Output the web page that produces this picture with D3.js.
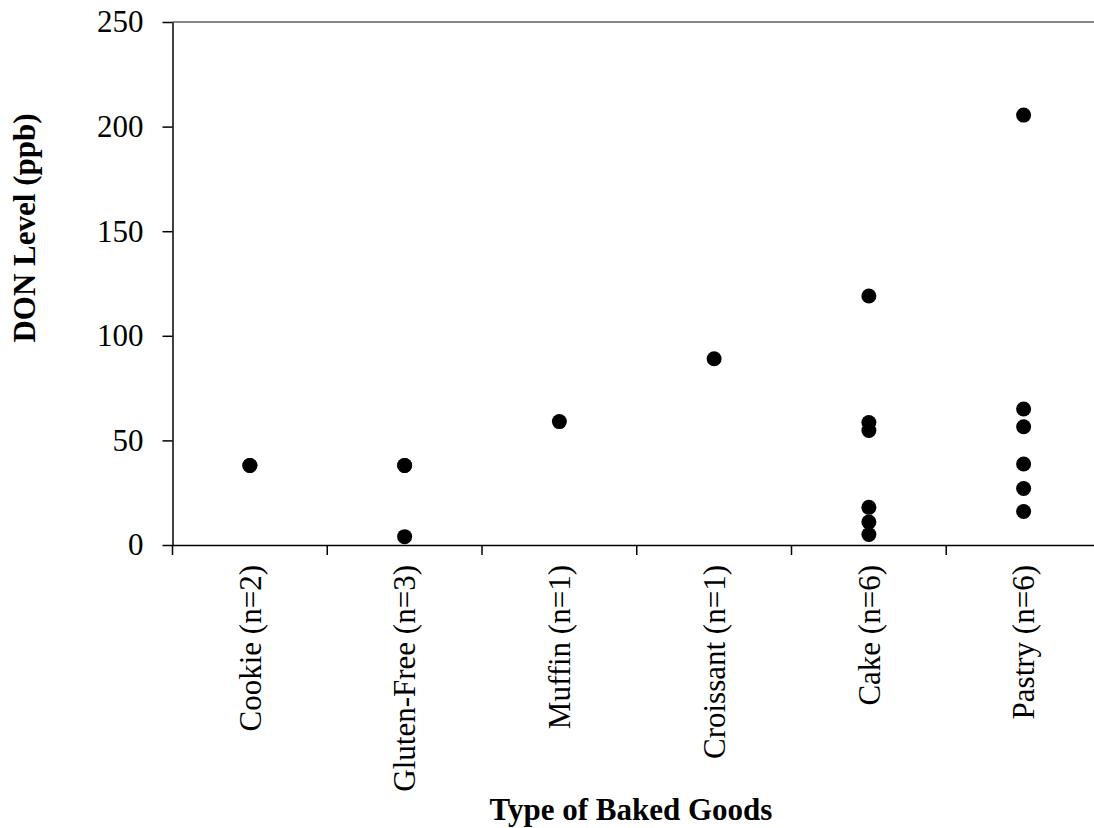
<!DOCTYPE html>
<html lang="en">

<head>
  <meta charset="UTF-8">
  <script src="https://cdn.jsdelivr.net/npm/d3@7"></script>
  <title>DON Level by Baked Goods</title>
  <style>
    body {
      margin: 0;
      background: white;
    }

    text {
      font-family: 'Liberation Serif', 'Times New Roman', serif;
      fill: black;
    }
  </style>
</head>

<body>
  <svg width="1094" height="828" id="chart"></svg>
  <script>
    // categories and DON readings (ppb)
    const categories = ["Cookie (n=2)", "Gluten-Free (n=3)", "Muffin (n=1)", "Croissant (n=1)", "Cake (n=6)", "Pastry (n=6)"];
    const cookie = [38, 38];
    const glutenFree = [38, 38, 4];
    const muffin = [59];
    const croissant = [89];
    const cake = [119, 58.5, 54.7, 18, 11, 5];
    const pastry = [205.5, 65, 56.5, 38.7, 27, 16];
    const yTicks = [0, 50, 100, 150, 200, 250];

    const series = [cookie, glutenFree, muffin, croissant, cake, pastry];
    const points = [];
    series.forEach((vals, i) => vals.forEach(v => points.push({ cat: categories[i], value: v })));

    const svg = d3.select("#chart");
    const plotLeft = 172.5, plotRight = 1101, plotTop = 22, plotBottom = 545;

    const x = d3.scaleBand()
      .domain(categories)
      .range([plotLeft, plotRight]);
    const y = d3.scaleLinear()
      .domain([0, 250])
      .range([plotBottom, plotTop]);

    // top and right border of plot area (gray)
    svg.append("line")
      .attr("x1", plotLeft).attr("x2", plotRight)
      .attr("y1", y(250)).attr("y2", y(250))
      .attr("stroke", "#868686").attr("stroke-width", 2);
    svg.append("line")
      .attr("x1", plotRight).attr("x2", plotRight)
      .attr("y1", y(250)).attr("y2", y(0))
      .attr("stroke", "#868686").attr("stroke-width", 2);

    // y axis
    const yAxis = svg.append("g")
      .attr("transform", `translate(${plotLeft},0)`)
      .call(d3.axisLeft(y).tickValues(yTicks).tickSize(10).tickSizeOuter(0).tickPadding(19));
    yAxis.selectAll("text").style("font-size", "31px");
    yAxis.selectAll("line, path").attr("stroke", "black").attr("stroke-width", 1.5);

    // x axis (labels at band centres, ticks at band edges)
    const xAxis = svg.append("g")
      .attr("transform", `translate(0,${plotBottom})`)
      .call(d3.axisBottom(x).tickSize(0).tickSizeOuter(0));
    xAxis.select("path").attr("stroke", "black").attr("stroke-width", 1.5);
    xAxis.selectAll(".tick text")
      .style("font-size", "31px")
      .attr("text-anchor", "end")
      .attr("transform", "rotate(-90)")
      .attr("x", -20)
      .attr("y", 0)
      .attr("dy", "0.35em");

    const edges = categories.map(c => x(c)).concat([x(categories[categories.length - 1]) + x.bandwidth()]);
    xAxis.selectAll("line.edge")
      .data(edges).enter().append("line").attr("class", "edge")
      .attr("x1", d => d).attr("x2", d => d)
      .attr("y1", 0).attr("y2", 10)
      .attr("stroke", "black").attr("stroke-width", 1.5);

    // dots
    svg.selectAll("circle.dot")
      .data(points).enter().append("circle").attr("class", "dot")
      .attr("cx", d => x(d.cat) + x.bandwidth() / 2)
      .attr("cy", d => y(d.value))
      .attr("r", 7.5)
      .attr("fill", "black");

    // axis titles
    svg.append("text")
      .attr("transform", "translate(35,228) rotate(-90)")
      .attr("text-anchor", "middle")
      .style("font-size", "31px")
      .style("font-weight", "bold")
      .text("DON Level (ppb)");

    svg.append("text")
      .attr("x", 631)
      .attr("y", 820)
      .attr("text-anchor", "middle")
      .style("font-size", "31px")
      .style("font-weight", "bold")
      .text("Type of Baked Goods");
  </script>
</body>

</html>
